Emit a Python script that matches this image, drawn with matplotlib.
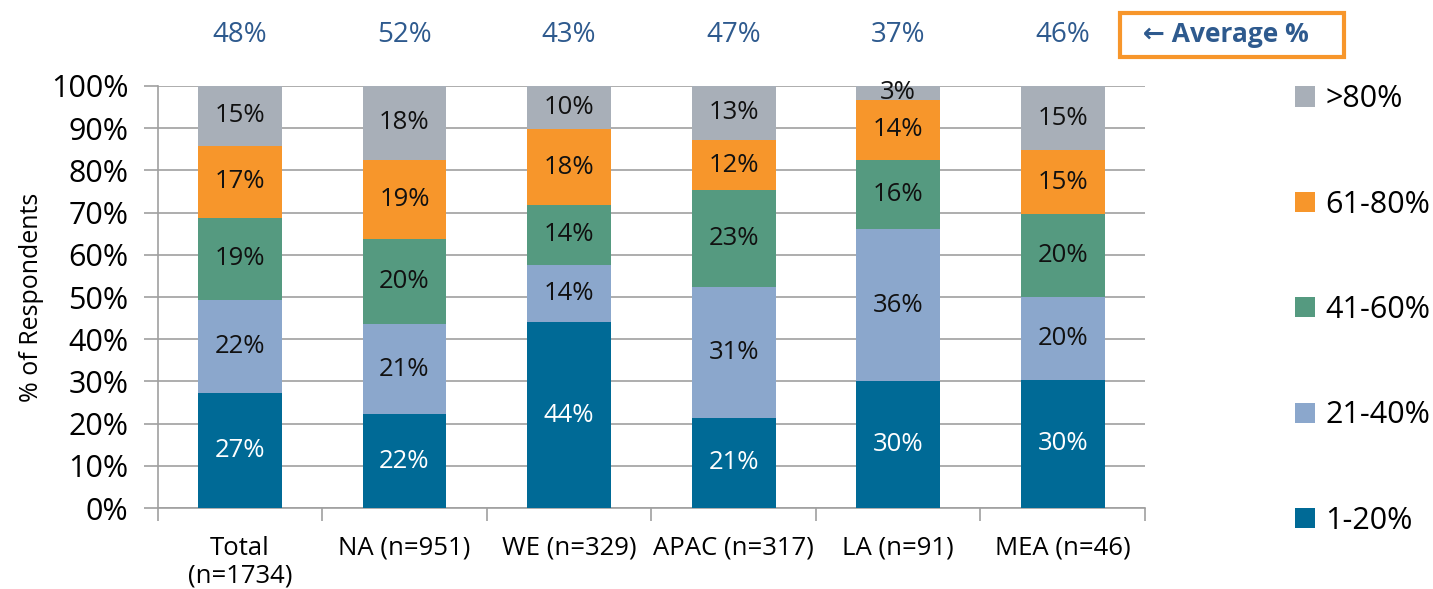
import numpy as np
import matplotlib.pyplot as plt
from matplotlib.patches import Patch

plt.rcParams['font.family'] = ['Open Sans', 'DejaVu Sans']

categories = ['Total\n(n=1734)', 'NA (n=951)', 'WE (n=329)', 'APAC (n=317)', 'LA (n=91)', 'MEA (n=46)']
series_names = ['1-20%', '21-40%', '41-60%', '61-80%', '>80%']
values = {
    '1-20%':  [27.2, 22.2, 44.0, 21.4, 30.1, 30.4],
    '21-40%': [22.2, 21.3, 13.7, 30.9, 36.0, 19.6],
    '41-60%': [19.4, 20.3, 14.1, 23.0, 16.4, 19.6],
    '61-80%': [17.0, 18.7, 17.9, 11.9, 14.2, 15.2],
    '>80%':   [14.6, 17.6, 10.3, 13.1, 3.3, 15.2],
}
averages = ['48%', '52%', '43%', '47%', '37%', '46%']
colors = ['#006A96', '#8BA7CC', '#559A80', '#F7962B', '#A8AFB8']

fig = plt.figure(figsize=(14.33, 5.89), dpi=100)
ax = fig.add_axes([0.110, 0.1375, 0.689, 0.7165])

x = np.arange(len(categories))
bottom = np.zeros(len(categories))
for name, col in zip(series_names, colors):
    v = np.array(values[name], dtype=float)
    ax.bar(x, v, 0.51, bottom=bottom, color=col, zorder=3)
    for xi, vi, bi in zip(x, v, bottom):
        tc = 'white' if name == '1-20%' else '#111111'
        ax.text(xi, bi + vi / 2, f'{round(vi)}%', ha='center', va='center',
                fontsize=18.5, color=tc, zorder=4)
    bottom += v

ax.set_xlim(-0.5, len(categories) - 0.5)
ax.set_ylim(0, 100)
ax.set_yticks(np.arange(0, 101, 10))
ax.set_yticklabels([f'{t}%' for t in range(0, 101, 10)], fontsize=22)
ax.yaxis.grid(True, color='#A0A0A0', linewidth=1.2, zorder=0)
ax.tick_params(axis='y', length=10, color='#A0A0A0', width=1.2, pad=11)

ax.set_xticks(x)
ax.set_xticklabels(categories, fontsize=18.5, linespacing=1.15)
ax.set_xticks(np.arange(-0.5, len(categories), 1), minor=True)
ax.tick_params(axis='x', which='major', length=0, pad=20)
ax.tick_params(axis='x', which='minor', length=9, color='#A0A0A0', width=1.2)

for s in ['top', 'right']:
    ax.spines[s].set_visible(False)
ax.spines['left'].set_color('#A0A0A0')
ax.spines['bottom'].set_color('#A0A0A0')
ax.spines['left'].set_linewidth(1.2)
ax.spines['bottom'].set_linewidth(1.2)

ax.set_ylabel('% of Respondents', fontsize=18, labelpad=5)

for xi, a in zip(x, averages):
    ax.text(xi, 1.121, a, transform=ax.get_xaxis_transform(), ha='center', va='center',
            fontsize=20, color='#2E5A8E')

fig.text(0.860, 0.941, '  \u2190 Average %    ', ha='center', va='center', fontsize=19,
         fontweight='bold', color='#2E5A8E',
         bbox=dict(boxstyle='square,pad=0.32', facecolor='white', edgecolor='#F7962B', linewidth=3))

handles = [Patch(facecolor=c) for c in colors][::-1]
fig.legend(handles, series_names[::-1], loc='upper left', bbox_to_anchor=(0.895, 0.878),
           frameon=False, fontsize=22, handlelength=0.65, handleheight=0.65,
           handletextpad=0.35, labelspacing=2.47, borderaxespad=0)

fig.savefig('out.png', dpi=100)
